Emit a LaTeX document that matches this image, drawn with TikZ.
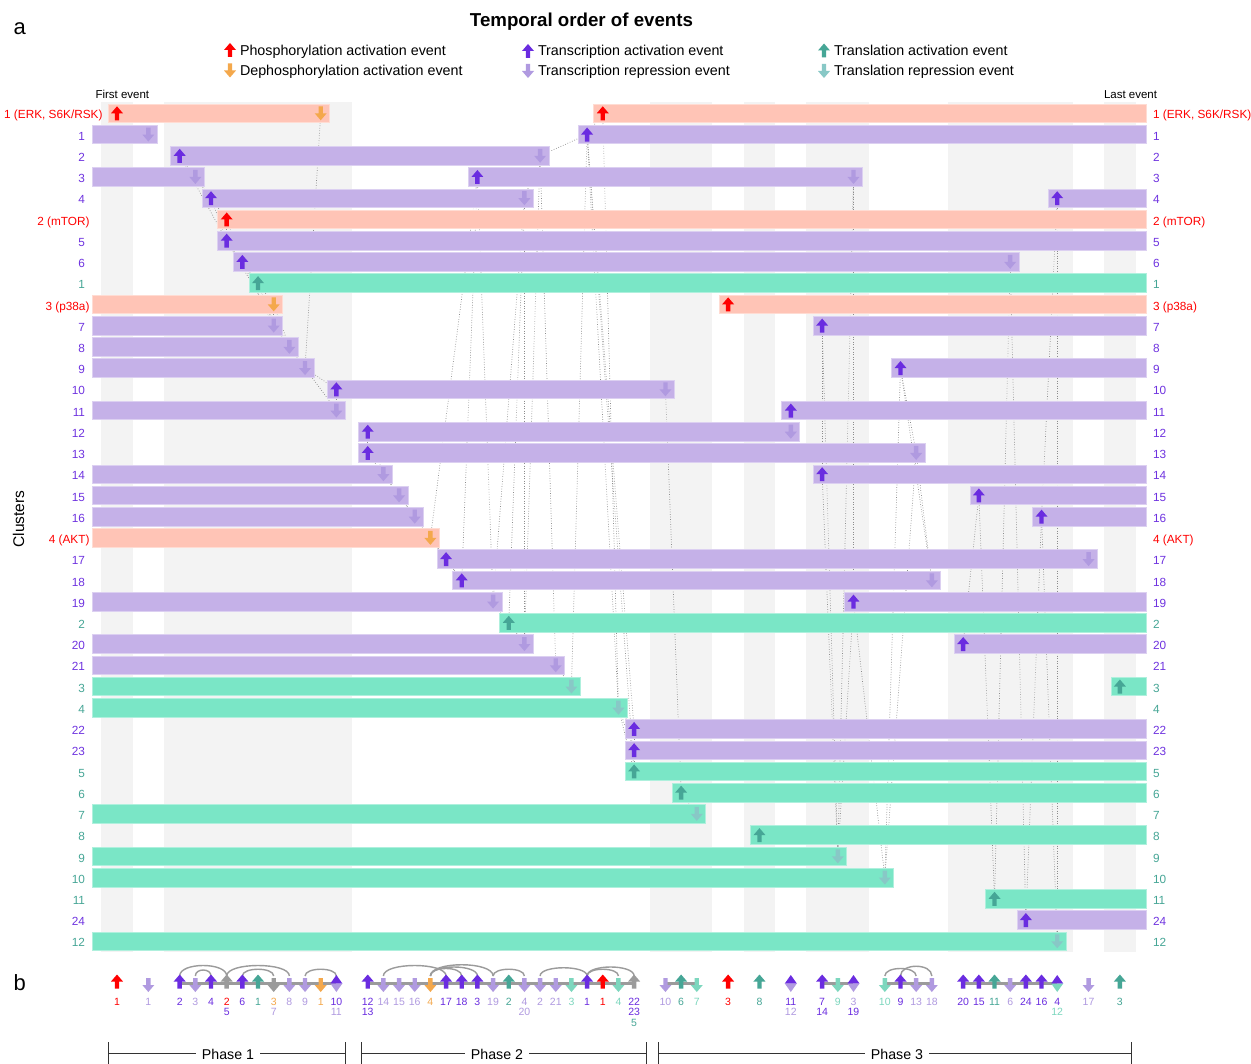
\documentclass[tikz,border=0pt]{standalone}
\usepackage{fontspec}
\setmainfont{Liberation Sans}
\definecolor{phbar}{HTML}{FFC4B6}
\definecolor{trbar}{HTML}{C5B1E8}
\definecolor{tlbar}{HTML}{7AE6C6}
\definecolor{phup}{HTML}{FF0000}
\definecolor{phdn}{HTML}{F4A84C}
\definecolor{trup}{HTML}{6A2CE0}
\definecolor{trdn}{HTML}{B09AE0}
\definecolor{tlup}{HTML}{46A696}
\definecolor{tldn}{HTML}{7DD7BE}
\definecolor{tldnA}{HTML}{88C8C6}
\definecolor{mixc}{HTML}{9B9B9B}
\definecolor{bandc}{HTML}{F3F3F3}
\definecolor{labtr}{HTML}{6F33E0}
\definecolor{labtl}{HTML}{46A696}
\definecolor{labph}{HTML}{FF0000}
\begin{document}
\begin{tikzpicture}[x=1pt,y=-1pt,
  every node/.style={inner sep=0pt,outer sep=0pt},
  uparr/.pic={\fill (0,-7) -- (6,0) -- (2.2,0) -- (2.2,7) -- (-2.2,7) -- (-2.2,0) -- (-6,0) -- cycle;},
  dnarr/.pic={\fill (0,7) -- (6,0) -- (2.2,0) -- (2.2,-7) -- (-2.2,-7) -- (-2.2,0) -- (-6,0) -- cycle;},
  link/.style={draw=black!45,line width=0.7pt,dash pattern=on 0.7pt off 1.8pt},
  barph/.style={fill=phbar,draw=phbar!60!white,line width=0.7pt},
  bartr/.style={fill=trbar,draw=trbar!60!white,line width=0.7pt},
  bartl/.style={fill=tlbar,draw=tlbar!60!white,line width=0.7pt},
  rowlab/.style={font=\fontsize{11.8}{13}\selectfont},
  leglab/.style={font=\fontsize{14.3}{16}\selectfont,anchor=base west},
  blab/.style={font=\fontsize{10.5}{12}\selectfont,anchor=base},
  tube/.style={draw=mixc,line width=2.4pt},
  arcst/.style={draw=mixc,line width=1.4pt},
  phase/.style={draw=black!80,line width=1pt},
  phlab/.style={font=\fontsize{14.2}{16}\selectfont,fill=white,inner xsep=6pt,inner ysep=2pt}
]
\useasboundingbox (0,0) rectangle (1251,1064);
\fill[white] (0,0) rectangle (1251,1064);

% background bands
\foreach \a/\b in {-1/1,3/15,34/38,40/42,44/48,53/61,63/65}
  \fill[bandc] ({117+15.67*\a},101.7) rectangle ({117+15.67*\b},952);

% title, panel letters, legend
\node[font=\fontsize{18.7}{22}\selectfont\bfseries,anchor=base] (title) at (581.5,26.7) {Temporal order of events};
\node[font=\fontsize{22}{24}\selectfont,anchor=base west] (pa) at (13.5,35) {a};
\node[font=\fontsize{22}{24}\selectfont,anchor=base west] (pb) at (13.5,990.7) {b};
\pic[phup] at (230,50) {uparr};
\pic[phdn] at (230,70.5) {dnarr};
\pic[trup] at (528,51) {uparr};
\pic[trdn] at (528,71) {dnarr};
\pic[tlup] at (824,50.5) {uparr};
\pic[tldnA] at (824,71) {dnarr};
\node[leglab] (lg1) at (240,55.5) {Phosphorylation activation event};
\node[leglab] (lg2) at (240,75.8) {Dephosphorylation activation event};
\node[leglab] (lg3) at (538,56) {Transcription activation event};
\node[leglab] (lg4) at (538,76) {Transcription repression event};
\node[leglab] (lg5) at (834,55.5) {Translation activation event};
\node[leglab] (lg6) at (834,76) {Translation repression event};
\node[font=\fontsize{11.5}{13}\selectfont,anchor=base west] (first) at (95.5,99) {First event};
\node[font=\fontsize{11.5}{13}\selectfont,anchor=base west] (last) at (1104,99) {Last event};
\node[font=\fontsize{15.5}{17}\selectfont,rotate=90] (clus) at (18.5,519) {Clusters};

% event coordinates
\foreach \r/\i in {0/0,0/13,0/31,1/2,1/30,2/4,2/27,3/5,3/23,3/47,4/6,4/26,4/60,5/7,6/7,7/8,7/57,8/9,9/10,9/39,10/10,10/45,11/11,12/12,12/50,13/14,13/35,14/14,14/43,15/16,15/43,16/16,16/51,17/17,17/45,18/18,18/55,19/19,19/59,20/20,21/21,21/62,22/22,22/52,23/24,23/47,24/25,25/26,25/54,26/28,27/29,27/64,28/32,29/33,30/33,31/33,32/36,33/37,34/41,35/46,36/49,37/56,38/58,39/60}
  \coordinate (e\i-\r) at ({117+15.67*\i},{113.3+21.23*\r});

% dotted links
\foreach \a/\b in {e4-2/e5-3,e5-3/e6-4,e6-4/e7-5,e6-4/e7-6,e7-5/e7-6,e7-5/e8-7,e7-6/e8-7,e8-7/e9-8,e9-8/e10-9,e9-8/e10-10,e10-9/e10-10,e10-9/e11-11,e10-10/e11-11,e11-11/e12-12,e12-12/e13-0,
  e4-2/e7-6,e7-6/e11-11,e8-7/e10-10,e12-12/e14-14,e12-12/e14-13,e14-13/e14-14,
  e16-15/e16-16,e16-15/e17-17,e16-16/e17-17,e17-17/e18-18,e18-18/e19-19,e19-19/e20-20,e20-20/e21-21,e21-21/e22-22,e22-22/e23-3,e23-3/e24-23,e24-23/e25-24,e25-24/e26-25,e25-24/e26-4,e26-4/e26-25,e26-4/e27-2,e26-25/e27-2,e27-2/e28-26,e28-26/e29-27,e29-27/e30-1,e30-1/e31-0,e31-0/e32-28,e32-28/e33-29,e32-28/e33-30,e32-28/e33-31,e33-29/e33-31,
  e17-17/e21-21,e20-20/e22-22,e20-20/e23-3,e24-23/e26-25,e24-23/e26-4,e27-2/e30-1,e30-1/e32-28,e30-1/e33-29,e30-1/e33-31,
  e35-13/e36-32,e36-32/e37-33,
  e45-10/e45-17,e45-17/e46-35,e46-35/e47-23,e45-10/e46-35,e46-35/e47-3,e47-3/e47-23,e47-23/e49-36,
  e49-36/e50-12,e50-12/e51-16,e51-16/e52-22,e49-36/e51-16,e50-12/e52-22,
  e54-25/e55-18,e55-18/e56-37,e56-37/e57-7,e57-7/e58-38,e58-38/e59-19,e59-19/e60-39,e59-19/e60-4,e60-4/e60-39}
  \draw[link] (\a) -- (\b);

% bars
\foreach \r/\a/\b in {0/0/13,0/31/99,5/7/99,9/-1/10,9/39/99,20/-1/20}{
  \pgfmathsetmacro\xa{(\a<0) ? 92 : 108+15.67*\a}
  \pgfmathsetmacro\xb{(\b>90) ? 1146 : 126+15.67*\b}
  \pgfmathsetmacro\yc{113.3+21.23*\r}
  \filldraw[barph] (\xa,{\yc-9.3}) rectangle (\xb,{\yc+9.3});}
\foreach \r/\a/\b in {1/-1/2,1/30/99,2/4/27,3/-1/5,3/23/47,4/6/26,4/60/99,6/7/99,7/8/57,10/-1/10,10/45/99,11/-1/11,12/-1/12,12/50/99,13/14/35,14/-1/14,14/43/99,15/16/43,16/16/51,17/-1/17,17/45/99,18/-1/18,18/55/99,19/-1/19,19/59/99,21/21/62,22/22/52,23/-1/24,23/47/99,25/-1/26,25/54/99,26/-1/28,29/33/99,30/33/99,38/58/99}{
  \pgfmathsetmacro\xa{(\a<0) ? 92 : 108+15.67*\a}
  \pgfmathsetmacro\xb{(\b>90) ? 1146 : 126+15.67*\b}
  \pgfmathsetmacro\yc{113.3+21.23*\r}
  \filldraw[bartr] (\xa,{\yc-9.3}) rectangle (\xb,{\yc+9.3});}
\foreach \r/\a/\b in {8/9/99,24/25/99,27/-1/29,27/64/99,28/-1/32,31/33/99,32/36/99,33/-1/37,34/41/99,35/-1/46,36/-1/49,37/56/99,39/-1/60}{
  \pgfmathsetmacro\xa{(\a<0) ? 92 : 108+15.67*\a}
  \pgfmathsetmacro\xb{(\b>90) ? 1146 : 126+15.67*\b}
  \pgfmathsetmacro\yc{113.3+21.23*\r}
  \filldraw[bartl] (\xa,{\yc-9.3}) rectangle (\xb,{\yc+9.3});}

% arrows in panel a
\foreach \r/\i in {0/0,0/31,5/7,9/39} \pic[phup] at (e\i-\r) {uparr};
\foreach \r/\i in {0/13,9/10,20/20} \pic[phdn] at (e\i-\r) {dnarr};
\foreach \r/\i in {1/30,2/4,3/23,4/6,4/60,6/7,7/8,10/45,12/50,13/14,14/43,15/16,16/16,17/45,18/55,19/59,21/21,22/22,23/47,25/54,29/33,30/33,38/58} \pic[trup] at (e\i-\r) {uparr};
\foreach \r/\i in {1/2,2/27,3/5,3/47,4/26,7/57,10/10,11/11,12/12,13/35,14/14,15/43,16/51,17/17,18/18,19/19,21/62,22/52,23/24,25/26,26/28} \pic[trdn] at (e\i-\r) {dnarr};
\foreach \r/\i in {8/9,24/25,27/64,31/33,32/36,34/41,37/56} \pic[tlup] at (e\i-\r) {uparr};
\foreach \r/\i in {27/29,28/32,33/37,35/46,36/49,39/60} \pic[tldnA] at (e\i-\r) {dnarr};

% row labels
\node[rowlab,anchor=base east,text=labph] (L0) at (102.5,119) {1 (ERK, S6K/RSK)};
\node[rowlab,anchor=base west,text=labph] (R0) at (1153,119) {1 (ERK, S6K/RSK)};
\foreach \r/\t/\c/\xr in {1/1/labtr/85,2/2/labtr/85,3/3/labtr/85,4/4/labtr/85,5/2 (mTOR)/labph/89.5,6/5/labtr/85,7/6/labtr/85,8/1/labtl/85,9/3 (p38a)/labph/89.5,10/7/labtr/85,11/8/labtr/85,12/9/labtr/85,13/10/labtr/85,14/11/labtr/85,15/12/labtr/85,16/13/labtr/85,17/14/labtr/85,18/15/labtr/85,19/16/labtr/85,20/4 (AKT)/labph/89.5,21/17/labtr/85,22/18/labtr/85,23/19/labtr/85,24/2/labtl/85,25/20/labtr/85,26/21/labtr/85,27/3/labtl/85,28/4/labtl/85,29/22/labtr/85,30/23/labtr/85,31/5/labtl/85,32/6/labtl/85,33/7/labtl/85,34/8/labtl/85,35/9/labtl/85,36/10/labtl/85,37/11/labtl/85,38/24/labtr/85,39/12/labtl/85}{
  \node[rowlab,anchor=base east,text=\c] (L\r) at (\xr,{119+21.23*\r}) {\t};
  \node[rowlab,anchor=base west,text=\c] (R\r) at (1153,{119+21.23*\r}) {\t};}

% panel b
\foreach \i in {0,2,4,5,6,7,8,9,10,11,12,13,14,16,17,18,19,20,21,22,23,24,25,26,27,28,29,30,31,32,33,35,36,37,39,41,43,45,46,47,49,50,51,52,54,55,56,57,58,59,60,62,64}{
  \coordinate (b\i) at ({117+15.67*\i},983.5);
  \coordinate (bt\i) at ({117+15.67*\i},976);}
\foreach \a/\b in {4/14,16/33,35/37,45/47,49/52,54/60} \draw[tube] (b\a) -- (b\b);
\foreach \a/\b/\h in {4/7/14,5/6/8,7/11/14,8/10/9,12/14/9,17/21/14,20/22/10,20/23/12,20/24/15,24/26/9,27/30/11,30/32/9,30/33/12,49/51/10,50/52/13}
  \draw[arcst] (bt\a) .. controls +(0,-\h) and +(0,-\h) .. (bt\b);
\foreach \i/\c in {0/phup,4/trup,6/trup,7/mixc,8/trup,9/tlup,16/trup,21/trup,22/trup,23/trup,25/tlup,30/trup,31/phup,33/mixc,36/tlup,39/phup,41/tlup,45/trup,50/trup,54/trup,55/trup,56/tlup,58/trup,59/trup,64/tlup}
  \pic[\c] at ({117+15.67*\i},981.5) {uparr};
\foreach \i/\c in {2/trdn,5/trdn,10/mixc,11/trdn,12/trdn,13/phdn,17/trdn,18/trdn,19/trdn,20/phdn,24/trdn,26/trdn,27/trdn,28/trdn,29/tldn,32/tldn,35/trdn,37/tldn,46/tldn,49/tldn,51/trdn,52/trdn,57/trdn,62/trdn}
  \pic[\c] at ({117+15.67*\i},985) {dnarr};
\foreach \i/\c/\d in {14/trup/trdn,43/trup/trdn,47/trup/trdn,60/trup/tldn}{
  \fill[\c] (b\i) ++(-6,0) -- ++(6,-8.5) -- ++(6,8.5) -- cycle;
  \fill[\d] (b\i) ++(-6,0) -- ++(6,8.5) -- ++(6,-8.5) -- cycle;}
\foreach \i/\t/\c in {0/1/phup,2/1/trdn,4/2/trup,5/3/trdn,6/4/trup,7/2/phup,8/6/trup,9/1/tlup,10/3/phdn,11/8/trdn,12/9/trdn,13/1/phdn,14/10/trup,16/12/trup,17/14/trdn,18/15/trdn,19/16/trdn,20/4/phdn,21/17/trup,22/18/trup,23/3/trup,24/19/trdn,25/2/tlup,26/4/trdn,27/2/trdn,28/21/trdn,29/3/tldn,30/1/trup,31/1/phup,32/4/tldn,33/22/trup,35/10/trdn,36/6/tlup,37/7/tldn,39/3/phup,41/8/tlup,43/11/trup,45/7/trup,46/9/tldn,47/3/trdn,49/10/tldn,50/9/trup,51/13/trdn,52/18/trdn,54/20/trup,55/15/trup,56/11/tlup,57/6/trdn,58/24/trup,59/16/trup,60/4/trup,62/17/trdn,64/3/tlup}
  \node[blab,text=\c] (bla\i) at ({117+15.67*\i},1005) {\t};
\foreach \i/\t/\c in {7/5/trup,10/7/trdn,14/11/trdn,16/13/trup,26/20/trdn,33/23/trup,43/12/trdn,45/14/trup,47/19/trup,60/12/tldn}
  \node[blab,text=\c] (blb\i) at ({117+15.67*\i},1015.7) {\t};
\node[blab,text=tlup] (blc33) at ({117+15.67*33},1026.4) {5};

% phases
\foreach \n/\a/\b/\m in {1/108.3/345.7/228,2/361/646/497,3/658.7/1131.7/897}{
  \coordinate (pl\n) at (\a,1053.5);
  \coordinate (pr\n) at (\b,1053.5);
  \draw[phase] (pl\n) -- (pr\n);
  \draw[phase] (\a,1042) -- (\a,1066);
  \draw[phase] (\b,1042) -- (\b,1066);
  \node[phlab,anchor=base] (ph\n) at (\m,1059.3) {Phase \n};}
\end{tikzpicture}
\end{document}
